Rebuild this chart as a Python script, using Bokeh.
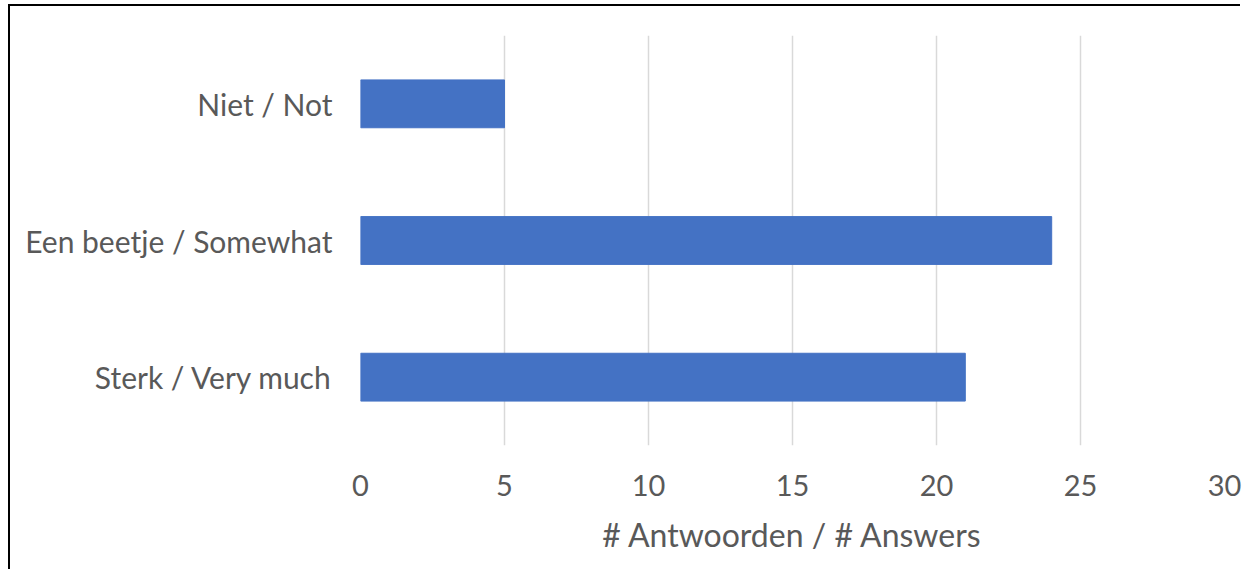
from bokeh.plotting import figure
from bokeh.models import FactorRange, FixedTicker
from bokeh.embed import file_html
from bokeh.resources import INLINE

categories = ["Sterk / Very much", "Een beetje / Somewhat", "Niet / Not"]
answers = [21, 24, 5]
x_ticks = [0, 5, 10, 15, 20, 25, 30]

FONT = "Lato"
GRAY = "#595959"

p = figure(width=1232, height=565, output_backend="svg", toolbar_location=None,
           y_range=FactorRange(*categories, range_padding=0), x_range=(0, 30),
           min_border_left=350, min_border_right=18, min_border_top=29, min_border_bottom=126)
p.styles = {"margin-top": "6px", "margin-left": "10px",
            "box-shadow": "-2px -2px 0px 0px black"}

p.hbar(y=categories, right=answers, left=0, height=0.35, color="#4472C4")

p.outline_line_color = None
p.ygrid.grid_line_color = None
p.xgrid.grid_line_color = "#D9D9D9"
p.xgrid.grid_line_width = 1.5

p.xaxis.ticker = FixedTicker(ticks=x_ticks)
for ax in (p.xaxis[0], p.yaxis[0]):
    ax.axis_line_color = None
    ax.major_tick_line_color = None
    ax.minor_tick_line_color = None
    ax.major_label_text_font = FONT
    ax.major_label_text_color = GRAY
    ax.major_label_text_font_size = "29px"

p.yaxis.major_label_text_font_size = "30px"
p.yaxis.major_label_standoff = 22
p.xaxis.major_label_standoff = 23
p.xaxis.axis_label = "# Antwoorden / # Answers"
p.xaxis.axis_label_text_font = FONT
p.xaxis.axis_label_text_font_style = "normal"
p.xaxis.axis_label_text_color = GRAY
p.xaxis.axis_label_text_font_size = "32px"
p.xaxis.axis_label_standoff = 16

open("out.html", "w").write(file_html(p, INLINE))
